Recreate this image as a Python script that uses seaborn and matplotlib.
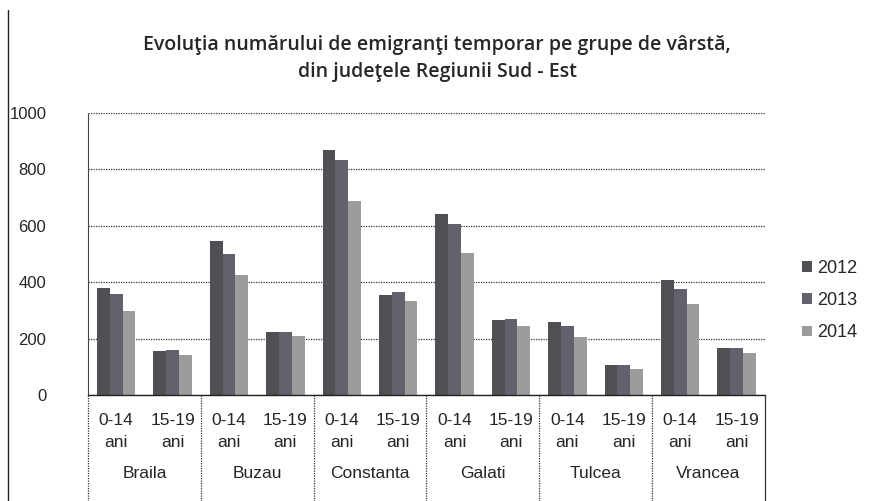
import numpy as np
import pandas as pd
import seaborn as sns
import matplotlib.pyplot as plt
from matplotlib.lines import Line2D
from matplotlib.transforms import blended_transform_factory

counties = ["Braila", "Buzau", "Constanta", "Galati", "Tulcea", "Vrancea"]
age_groups = ["0-14\nani", "15-19\nani"]
years = ["2012", "2013", "2014"]

# values per (county, age group), in the order Braila 0-14, Braila 15-19, Buzau 0-14, ...
v2012 = [380, 157, 545, 222, 869, 355, 642, 266, 258, 105, 408, 165]
v2013 = [357, 161, 501, 222, 832, 365, 608, 268, 245, 105, 376, 165]
v2014 = [299, 141, 427, 208, 687, 333, 505, 245, 207, 93, 322, 150]

colors = ["#505054", "#62626c", "#9c9c9c"]

cats = [f"{c}|{a}" for c in counties for a in age_groups]
df = pd.DataFrame({
    "cat": cats * 3,
    "year": np.repeat(years, len(cats)),
    "value": v2012 + v2013 + v2014,
})

sns.set_style("white")
plt.rcParams["font.family"] = ["Liberation Sans", "DejaVu Sans"]

fig = plt.figure(figsize=(8.69, 5.01), dpi=100)
ax = fig.add_axes([0.1013, 0.2116, 0.7787, 0.5629])

sns.barplot(data=df, x="cat", y="value", hue="year", palette=colors,
            width=0.68, saturation=1, ax=ax, legend=True, linewidth=0)

ax.set_ylim(0, 1000)
ax.set_xlim(-0.5, len(cats) - 0.5)
ax.set_yticks(range(0, 1001, 200))
ax.tick_params(axis="y", length=0, pad=30, labelsize=12)
ax.set_xticks(range(len(cats)))
ax.set_xticklabels([c.split("|")[1] for c in cats], fontsize=12.5, linespacing=1.55)
ax.tick_params(axis="x", length=0, pad=13)
ax.set_xlabel("")
ax.set_ylabel("")
ax.yaxis.grid(True, linestyle=(0, (1, 1)), color="#333333", linewidth=0.9)
ax.set_axisbelow(True)

for s in ["top", "right"]:
    ax.spines[s].set_visible(False)
ax.spines["left"].set_linestyle((0, (1, 1)))
ax.spines["left"].set_color("#444444")
ax.spines["bottom"].set_color("#222222")
ax.spines["bottom"].set_linewidth(1.0)

# county labels and separators below the axis
trans = blended_transform_factory(ax.transData, ax.transAxes)
for i, c in enumerate(counties):
    ax.text(2 * i + 0.5, -0.28, c, transform=trans, ha="center", va="center", fontsize=12.5)
for k in range(len(counties) + 1):
    x = 2 * k - 0.5
    ls = "-" if k == len(counties) else (0, (1, 1))
    ax.add_line(Line2D([x, x], [0, -0.38], transform=trans, color="#333333",
                       linewidth=0.9, linestyle=ls, clip_on=False))

# outer border on the left
fig.add_artist(Line2D([0.0095, 0.0095], [0.0, 0.98], color="#222222", linewidth=1.0))

title_font = dict(ha="center", va="center", fontsize=14, fontweight="semibold",
                  family="Open Sans")
fig.text(0.503, 0.91, "Evoluţia numărului de emigranţi temporar pe grupe de vârstă,",
         **title_font)
fig.text(0.503, 0.857, "din judeţele Regiunii Sud - Est", **title_font)

leg = ax.legend(loc="center left", bbox_to_anchor=(1.045, 0.335), frameon=False,
                fontsize=13, handlelength=0.55, handleheight=0.55, handletextpad=0.25,
                labelspacing=0.85, borderaxespad=0)

fig.savefig("out.png", dpi=100)
